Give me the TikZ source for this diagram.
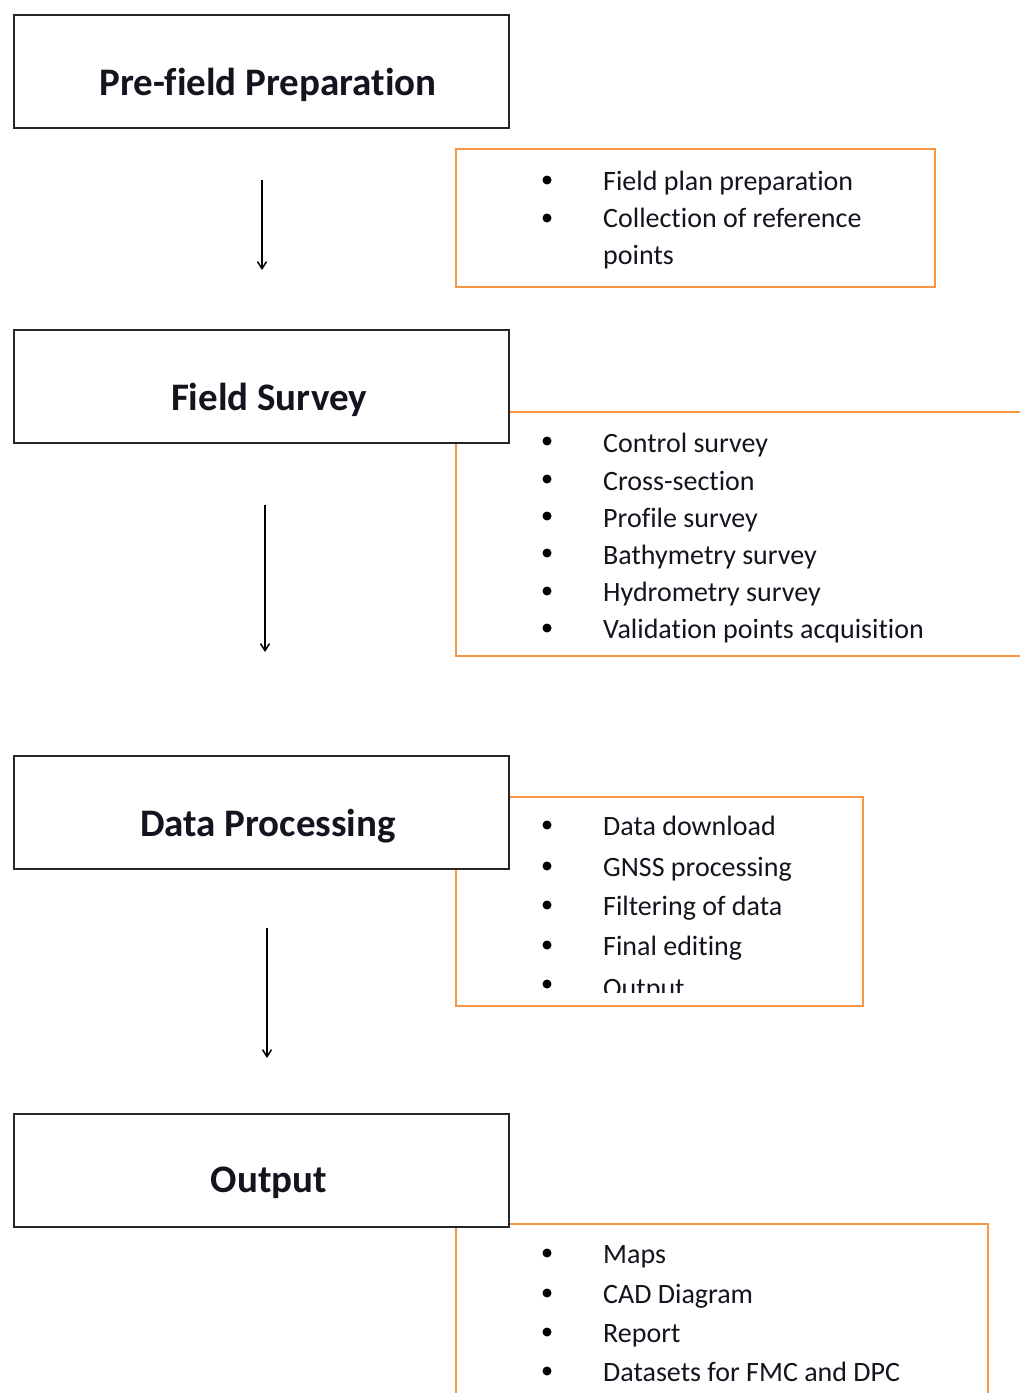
\documentclass[tikz,border=0pt]{standalone}
\usepackage{fontspec}
\setmainfont[Ligatures=NoCommon]{Carlito}
\usetikzlibrary{arrows.meta}
\definecolor{obrd}{RGB}{247,150,70}
\definecolor{txt}{RGB}{20,20,30}
\begin{document}
\begin{tikzpicture}[x=1pt,y=-1pt,
  obox/.style={draw=obrd,line width=2.2pt,fill=white,inner sep=0pt,anchor=north west},
  bbox/.style={draw=black!85,line width=2.4pt,fill=white,inner sep=0pt,minimum width=495pt,minimum height=113pt,anchor=north west},
  ttl/.style={anchor=base,font=\fontsize{39}{43}\selectfont\bfseries,text=txt,inner sep=0pt},
  itm/.style={anchor=base west,font=\fontsize{28}{31}\selectfont,text=txt,inner sep=0pt},
  dot/.style={circle,fill=black,inner sep=0pt,minimum size=9pt},
  arr/.style={line width=1.5pt,-{Straight Barb[length=7pt,width=9pt]}}]
\useasboundingbox (0,0) rectangle (1020,1393);
\fill[white] (0,0) rectangle (1020,1393);
\begin{scope}
\clip (0,0) rectangle (1020,1393);
% orange boxes
\node[obox,minimum width=479pt,minimum height=138pt] (o1) at (455,148) {};
\node[obox,minimum width=600pt,minimum height=244pt] (o2) at (455,411) {};
\node[obox,minimum width=407pt,minimum height=209pt] (o3) at (455,796) {};
\node[obox,minimum width=532pt,minimum height=200pt] (o4) at (455,1223) {};
% black boxes
\node[bbox] (p1) at (13,14) {};
\node[bbox] (p2) at (13,329) {};
\node[bbox] (p3) at (13,755) {};
\node[bbox] (p4) at (13,1113) {};
\node[ttl] (t1) at (268,95) {Pre-field Preparation};
\node[ttl] (t2) at (269,410) {Field Survey};
\node[ttl] (t3) at (268,836) {Data Processing};
\node[ttl] (t4) at (269,1192) {Output};
% arrows
\coordinate (a1s) at (262,180); \coordinate (a1e) at (262,270);
\coordinate (a2s) at (265,505); \coordinate (a2e) at (265,652);
\coordinate (a3s) at (267,928); \coordinate (a3e) at (267,1058);
\draw[arr] (a1s) -- (a1e);
\draw[arr] (a2s) -- (a2e);
\draw[arr] (a3s) -- (a3e);
% box 1 items
\node[dot] (d1a) at (547,180) {}; \node[itm] (i1a) at (603,190) {Field plan preparation};
\node[dot] (d1b) at (547,218) {}; \node[itm] (i1b) at (603,227) {Collection of reference};
\node[itm] (i1c) at (603,264) {points};
% box 2 items
\node[dot] (d2a) at (547,441) {}; \node[itm] (i2a) at (603,452) {Control survey};
\node[dot] (d2b) at (547,479) {}; \node[itm] (i2b) at (603,490) {Cross-section};
\node[dot] (d2c) at (547,516) {}; \node[itm] (i2c) at (603,527) {Profile survey};
\node[dot] (d2d) at (547,553) {}; \node[itm] (i2d) at (603,564) {Bathymetry survey};
\node[dot] (d2e) at (547,591) {}; \node[itm] (i2e) at (603,601) {Hydrometry survey};
\node[dot] (d2f) at (547,628) {}; \node[itm] (i2f) at (603,638) {Validation points acquisition};
% box 3 items
\node[dot] (d3a) at (547,825) {}; \node[itm] (i3a) at (603,835) {Data download};
\node[dot] (d3b) at (547,866) {}; \node[itm] (i3b) at (603,876) {GNSS processing};
\node[dot] (d3c) at (547,905) {}; \node[itm] (i3c) at (603,915) {Filtering of data};
\node[dot] (d3d) at (547,945) {}; \node[itm] (i3d) at (603,955) {Final editing};
\node[dot] (d3e) at (547,984) {};
\begin{scope}
\clip (455,800) rectangle (862,992);
\node[itm] (i3e) at (603,997) {Output};
\end{scope}
% box 4 items
\node[dot] (d4a) at (547,1253) {}; \node[itm] (i4a) at (603,1263) {Maps};
\node[dot] (d4b) at (547,1293) {}; \node[itm] (i4b) at (603,1303) {CAD Diagram};
\node[dot] (d4c) at (547,1332) {}; \node[itm] (i4c) at (603,1342) {Report};
\node[dot] (d4d) at (547,1371) {}; \node[itm] (i4d) at (603,1381) {Datasets for FMC and DPC};
\end{scope}
\end{tikzpicture}
\end{document}
